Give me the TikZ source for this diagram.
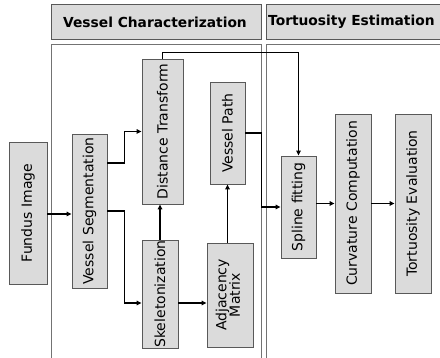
\documentclass[tikz,border=0pt]{standalone}
\usepackage{graphicx}
\usepackage{fontspec}
\setmainfont{DejaVu Sans}
\usetikzlibrary{arrows.meta, positioning}

\newcommand{\sidetext}[1]{\rotatebox{90}{#1}}

\begin{document}
\begin{tikzpicture}[x=1pt, y=-1pt, font=\fontsize{14}{15.5}\selectfont,
    stage/.style={draw=black!65, fill=black!14, inner sep=0pt, line width=0.8pt},
    head/.style={draw=black!65, fill=black!14, line width=0.8pt},
    panel/.style={draw=black!55, line width=0.8pt},
    flow/.style={-{Triangle[length=5pt, width=4.5pt]}, line width=1.8pt}]
    \useasboundingbox (0,0) rectangle (440,358);
    % two column headers, each over an open panel
    \draw[head] (51,4) rectangle (261,39);
    \draw[head] (266,4) rectangle (446,39);
    \draw[panel] (51,362) |- (261,44) -- (261,362);
    \draw[panel] (266,362) |- (446,44);
    \node[font=\fontsize{13.8}{16}\selectfont\bfseries] (hchar) at (155,22) {Vessel Characterization};
    \node[font=\fontsize{13.8}{16}\selectfont\bfseries, anchor=west, inner sep=1pt] (htort) at (267,22) {Tortuosity Estimation};
    % processing stages, text turned upright
    \node[stage, minimum width=38pt, minimum height=142pt] (fundus) at (28,213) {\sidetext{Fundus Image}};
    \node[stage, minimum width=35pt, minimum height=154pt] (vseg) at (89.5,211) {\sidetext{Vessel Segmentation}};
    \node[stage, minimum width=41pt, minimum height=145pt] (dist) at (162.5,131.5) {\sidetext{Distance Transform}};
    \node[stage, minimum width=36pt, minimum height=108pt] (skel) at (160,294) {\sidetext{Skeletonization}};
    \node[stage, minimum width=46pt, minimum height=104pt] (adj) at (230,295)
      {\sidetext{\begin{tabular}{@{}c@{}}Adjacency\\[-2pt] Matrix\end{tabular}}};
    \node[stage, minimum width=35pt, minimum height=102pt] (vpath) at (227.5,133) {\sidetext{Vessel Path}};
    \node[stage, minimum width=35pt, minimum height=102pt] (spline) at (298.5,207) {\sidetext{Spline fitting}};
    \node[stage, minimum width=36pt, minimum height=179pt] (curv) at (353,203.5) {\sidetext{Curvature Computation}};
    \node[stage, minimum width=36pt, minimum height=179pt] (tort) at (413,203.5) {\sidetext{Tortuosity Evaluation}};
    % connectors
    \draw[flow] ([yshift=-1pt]fundus.east) -- ([yshift=-1pt]fundus.east -| vseg.west);
    \draw[flow] ([yshift=48pt]vseg.east) -- ++(17,0) |- (dist.west);
    \draw[flow] (vseg.east) -- ++(17,0) |- ([yshift=-9pt]skel.west);
    \draw[flow] (skel.north) -- (skel.north |- dist.south);
    \draw[flow] ([yshift=-9pt]skel.east) -- ([yshift=-9pt]skel.east -| adj.west);
    \draw[flow] (vpath.south |- adj.north) -- (vpath.south);
    \draw[flow] (vpath.east) -- ++(16,0) |- (spline.west);
    \draw[flow] (dist.north) -- ++(0,-6) -| (spline.north);
    \draw[flow] (curv.west -| spline.east) -- (curv.west);
    \draw[flow] (curv.east) -- (tort.west);
\end{tikzpicture}
\end{document}
